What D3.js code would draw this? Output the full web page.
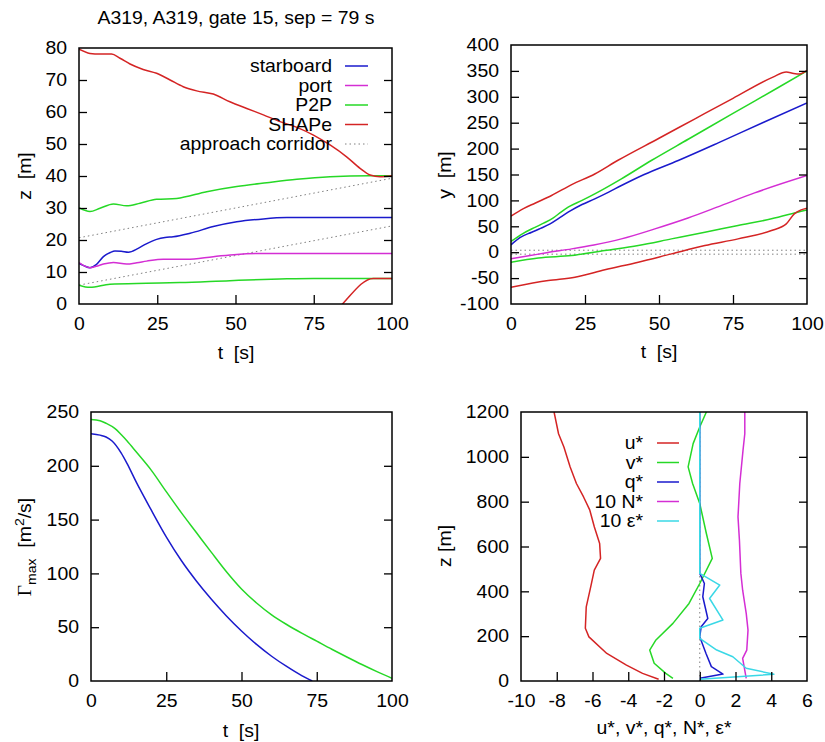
<!DOCTYPE html>
<html>
<head>
<meta charset="utf-8">
<script src="https://cdn.jsdelivr.net/npm/d3@7"></script>
<style>
  body { margin: 0; background: #fff; }
  svg { display: block; }
  text { font-family: "Liberation Sans", Arial, sans-serif; font-size: 18px; fill: #000; }
</style>
</head>
<body>
<svg id="chart" width="825" height="742"></svg>
<script>
// ---------- data ----------
const titleText = "A319, A319, gate 15, sep = 79 s";

// vortex height z(t)
const zStarT  = [0, 1.5, 3.5, 5.5, 7.8, 10, 11.5, 13.5, 15.8, 18.9, 21.5, 24.8, 27.5, 30.1, 35.5, 42.9, 50.4, 58.9, 66.4, 75, 100];
const zStar   = [12.7, 12.0, 11.35, 12.3, 14.8, 16.1, 16.6, 16.5, 16.2, 17.4, 18.8, 20.2, 20.8, 21.0, 22.1, 24.2, 25.7, 26.6, 27.0, 27.05, 27.05];
const zPortT  = [0, 1.5, 3.5, 5.5, 7.8, 11, 15.2, 18.5, 21.6, 26.9, 34.4, 42.9, 50.4, 58.9, 70, 100];
const zPort   = [12.9, 12.0, 11.35, 11.8, 12.5, 13.0, 12.5, 12.9, 13.4, 14.0, 14.0, 14.8, 15.5, 15.8, 15.8, 15.8];
const zP2PHiT = [0, 3.5, 6.7, 11, 15.2, 19.5, 24.8, 31.2, 40.8, 50.4, 60, 69.6, 80.2, 93, 100];
const zP2PHi  = [30.1, 28.9, 29.9, 31.25, 30.7, 31.5, 32.7, 33.0, 35.1, 36.7, 37.9, 39.0, 39.8, 40.1, 40.1];
const zP2PLoT = [0, 3.5, 9.9, 21.6, 32.2, 48.2, 64.2, 74.9, 100];
const zP2PLo  = [5.9, 5.2, 6.2, 6.5, 6.7, 7.3, 7.8, 8.0, 8.0];
const zShapeHiT = [0, 3.5, 6.7, 10.4, 13.1, 16.3, 20.5, 24.8, 29.1, 33.3, 37.6, 42.9, 48.2, 53.6, 58.9, 64.2, 69.6, 74.9, 80.2, 85.5, 89.8, 93, 96.2, 100];
const zShapeHi  = [79.6, 78.3, 78.1, 78.1, 76.8, 75.0, 73.3, 72.1, 70.0, 67.9, 66.6, 65.6, 63.2, 61.1, 59.1, 57.0, 55.2, 52.8, 49.7, 46.0, 42.4, 40.3, 39.8, 40.1];
const zShapeLoT = [82, 84.4, 94, 100];
const zShapeLo  = [-2.5, 0.2, 8.0, 8.0];
const corridorT   = [0, 100];
const corridorZHi = [20.7, 39.3];
const corridorZLo = [5.9, 24.4];

// lateral position y(t)
const yStarT  = [0, 3, 7, 10, 13.2, 16, 19.3, 24, 28.3, 33, 37.3, 45, 56.5, 70, 85, 100];
const yStar   = [14.2, 28, 38.6, 46, 54.7, 65, 77.2, 92, 103, 116, 128.7, 150, 177, 211, 250, 288];
const yPortT  = [0, 6, 12, 20.5, 28, 37.3, 48.6, 59.8, 71, 82.3, 100];
const yPort   = [-12.9, -7, -1, 6.4, 14, 25.7, 45, 66, 90, 114.5, 148];
const yP2PHiT = [0, 4, 8.1, 11, 14.3, 17, 19.3, 24, 28.3, 37.3, 47.4, 60, 75, 90, 100];
const yP2PHi  = [20.6, 36, 48, 56, 66.3, 78, 86.9, 100, 112.6, 141.6, 177, 218.5, 268, 317, 350];
const yP2PLoT = [0, 9.2, 20.5, 31.7, 43, 54.2, 65.5, 76.7, 88, 98, 100];
const yP2PLo  = [-19.3, -11, -6.4, 3.2, 12.9, 25.7, 38.6, 51.5, 64.4, 79, 81.7];
const yShapeHiT = [0, 4.2, 8.1, 13.7, 20.5, 28.3, 36, 50, 62, 75, 88.5, 93, 95.5, 97.5, 100];
const yShapeHi  = [69.5, 84, 94.6, 109.4, 130.6, 151, 177, 220, 257, 297, 338, 348, 345, 344, 351];
const yShapeLoT = [0, 12.6, 21.6, 31.7, 43, 54.2, 65.5, 76.7, 88, 93, 95.7, 98, 100];
const yShapeLo  = [-67.6, -54.7, -48.3, -34, -19.3, -3.2, 12.9, 25.7, 41.8, 54.7, 74, 81.7, 85];
const corridorY = [3.8, -3.8];

// circulation Gamma_max(t)
const gamStarT = [0, 3, 5, 7, 10, 12, 15, 20, 25, 30, 35, 40, 45, 50, 55, 60, 65, 70, 73.5];
const gamStar  = [229.9, 228.5, 226.8, 223, 212, 202, 185, 159, 134, 112, 93, 76, 60.5, 46.5, 34, 23, 13.5, 5, 0];
const gamP2PT  = [0, 3, 5, 8, 10, 12, 15, 20, 25, 30, 35, 40, 45, 50, 55, 60, 65, 70, 75, 80, 85, 90, 95, 100];
const gamP2P   = [243, 241.8, 239.5, 234.5, 229, 223, 213, 196, 176, 156.5, 138, 119.5, 101.5, 85.5, 72.5, 61.5, 52.5, 44.5, 37, 29.5, 22.3, 15.3, 8.7, 2.5];

// meteorological profiles over height z
const uZ   = [7.5, 34, 71, 123, 197, 235, 331, 420, 495, 547, 613, 688, 762, 821, 881, 955, 1044, 1103, 1200];
const uVal = [-2.3, -3.2, -4.1, -5.2, -6.2, -6.4, -6.35, -6.1, -5.9, -5.55, -5.6, -5.9, -6.15, -6.5, -6.9, -7.25, -7.6, -7.9, -8.15];
const vZ   = [12, 34, 79, 138, 183, 257, 346, 435, 547, 658, 792, 881, 955, 1059, 1133, 1200];
const vVal = [-1.5, -1.9, -2.55, -2.8, -2.45, -1.5, -0.6, 0, 0.7, 0.37, 0.0, -0.4, -0.65, -0.37, 0.0, 0.37];
const qZ   = [12, 31, 64, 123, 197, 242, 279, 376, 435, 480, 1200];
const qVal = [0, 1.3, 0.65, 0.35, 0.0, 0.08, 0.45, 0.17, 0.26, 0.0, 0.0];
const nZ   = [12, 79, 101, 138, 227, 302, 405, 480, 628, 732, 881, 1029, 1103, 1200];
const nVal = [2.6, 2.45, 2.4, 2.63, 2.7, 2.6, 2.4, 2.3, 2.22, 2.14, 2.24, 2.42, 2.52, 2.52];
const eZ   = [7.5, 30, 57, 108, 138, 190, 235, 272, 368, 428, 480, 1200];
const eVal = [0, 4.15, 2.6, 1.85, 0.95, 0, 0, 1.3, 0.55, 1.12, 0, 0];

// ticks and labels
const tTicks     = [0, 25, 50, 75, 100];
const zTicks     = [0, 10, 20, 30, 40, 50, 60, 70, 80];
const yTicks     = [-100, -50, 0, 50, 100, 150, 200, 250, 300, 350, 400];
const gamTicks   = [0, 50, 100, 150, 200, 250];
const profXTicks = [-10, -8, -6, -4, -2, 0, 2, 4, 6];
const profZTicks = [0, 200, 400, 600, 800, 1000, 1200];
const trackLegend   = ["starboard", "port", "P2P", "SHAPe", "approach corridor"];
const profileLegend = ["u*", "v*", "q*", "10 N*", "10 \u03b5*"];

// ---------- drawing ----------
const SX = 1.08;   // horizontal text stretch
const C = { blue: "#1a1acc", magenta: "#d42ed4", green: "#26d826", red: "#d42424", cyan: "#3ad8e6", grey: "#808080" };
const svg = d3.select("#chart");
const zip = (a, b) => a.map((v, i) => [v, b[i]]);

function label(g, x, y, s, anchor = "middle", rot = 0) {
  return g.append("text")
    .attr("transform", `translate(${x},${y})` + (rot ? ` rotate(${rot})` : "") + ` scale(${SX},1)`)
    .attr("text-anchor", anchor)
    .style("white-space", "pre")
    .text(s);
}

function panel(box, xDom, yDom, xTicks, yTicks, id) {
  const x = d3.scaleLinear().domain(xDom).range([box.x0, box.x1]);
  const y = d3.scaleLinear().domain(yDom).range([box.y1, box.y0]);
  const g = svg.append("g");
  svg.append("clipPath").attr("id", id).append("rect")
    .attr("x", box.x0).attr("y", box.y0)
    .attr("width", box.x1 - box.x0).attr("height", box.y1 - box.y0);
  const plot = g.append("g").attr("clip-path", `url(#${id})`);
  const fmt = d => String(d);

  const bx = g.append("g").attr("transform", `translate(0,${box.y1})`)
    .call(d3.axisBottom(x).tickValues(xTicks).tickFormat(fmt).tickSize(-9).tickSizeOuter(0).tickPadding(13));
  const ly = g.append("g").attr("transform", `translate(${box.x0},0)`)
    .call(d3.axisLeft(y).tickValues(yTicks).tickFormat(fmt).tickSize(-8).tickSizeOuter(0).tickPadding(12));
  const ry = g.append("g").attr("transform", `translate(${box.x1},0)`)
    .call(d3.axisRight(y).tickValues(yTicks).tickFormat("").tickSize(-8).tickSizeOuter(0));
  [bx, ly, ry].forEach(a => {
    a.select(".domain").remove();
    a.selectAll("line").attr("stroke-width", 1.3);
  });
  bx.selectAll("text").attr("transform", `scale(${SX},1)`);
  ly.selectAll("text").attr("x", -12 / SX).attr("transform", `scale(${SX},1)`);
  // drop ticks that sit on the frame
  [ly, ry].forEach(a => a.selectAll(".tick line").filter(d => d === yDom[0] || d === yDom[1]).remove());
  bx.selectAll(".tick line").filter(d => d === xDom[0] || d === xDom[1]).remove();

  g.append("rect").attr("x", box.x0).attr("y", box.y0)
    .attr("width", box.x1 - box.x0).attr("height", box.y1 - box.y0)
    .attr("fill", "none").attr("stroke", "#000").attr("stroke-width", 1.5);
  return { x, y, g, plot };
}

function series(p, pts, color, curve, dashed) {
  const line = d3.line().x(d => p.x(d[0])).y(d => p.y(d[1])).curve(curve || d3.curveLinear);
  const path = p.plot.append("path").datum(pts).attr("d", line)
    .attr("fill", "none").attr("stroke", color)
    .attr("stroke-width", dashed ? 1 : 1.5).attr("stroke-linejoin", "round");
  if (dashed) path.attr("stroke-dasharray", "1.5,3");
  return path;
}

function legend(g, entries, xText, xs0, xs1, y0, dy) {
  entries.forEach((e, i) => {
    const y = y0 + i * dy;
    label(g, xText, y, e.text, "end").attr("dy", "0.35em");
    const l = g.append("line").attr("x1", xs0).attr("x2", xs1).attr("y1", y).attr("y2", y)
      .attr("stroke", e.color).attr("stroke-width", e.dashed ? 1 : 1.5);
    if (e.dashed) l.attr("stroke-dasharray", "1.5,3");
  });
}

const smooth = d3.curveMonotoneX;

// title
label(svg, 236, 24, titleText);

// ---- panel: z(t) ----
const pA = panel({ x0: 79, x1: 392, y0: 48, y1: 304 }, [0, 100], [0, 80], tTicks, zTicks, "clipA");
series(pA, zip(corridorT, corridorZHi), C.grey, null, true);
series(pA, zip(corridorT, corridorZLo), C.grey, null, true);
series(pA, zip(zStarT, zStar), C.blue, smooth);
series(pA, zip(zPortT, zPort), C.magenta, smooth);
series(pA, zip(zP2PHiT, zP2PHi), C.green, smooth);
series(pA, zip(zP2PLoT, zP2PLo), C.green, smooth);
series(pA, zip(zShapeHiT, zShapeHi), C.red, smooth);
series(pA, zip(zShapeLoT, zShapeLo), C.red, smooth);
legend(pA.g, [
  { text: trackLegend[0], color: C.blue },
  { text: trackLegend[1], color: C.magenta },
  { text: trackLegend[2], color: C.green },
  { text: trackLegend[3], color: C.red },
  { text: trackLegend[4], color: C.grey, dashed: true }
], 332, 345, 368, 66, 19.5);
label(svg, 25, 176, "z  [m]", "middle", -90).attr("dy", "0.35em");
label(svg, 236, 359, "t  [s]");

// ---- panel: y(t) ----
const pB = panel({ x0: 511, x1: 807, y0: 45, y1: 304 }, [0, 100], [-100, 400], tTicks, yTicks, "clipB");
corridorY.forEach(v => series(pB, zip(corridorT, [v, v]), C.grey, null, true));
series(pB, zip(yStarT, yStar), C.blue, smooth);
series(pB, zip(yPortT, yPort), C.magenta, smooth);
series(pB, zip(yP2PHiT, yP2PHi), C.green, smooth);
series(pB, zip(yP2PLoT, yP2PLo), C.green, smooth);
series(pB, zip(yShapeHiT, yShapeHi), C.red, smooth);
series(pB, zip(yShapeLoT, yShapeLo), C.red, smooth);
label(svg, 445, 175, "y  [m]", "middle", -90).attr("dy", "0.35em");
label(svg, 659, 358, "t  [s]");

// ---- panel: Gamma_max(t) ----
const pC = panel({ x0: 91, x1: 392, y0: 412, y1: 681 }, [0, 100], [0, 250], tTicks, gamTicks, "clipC");
series(pC, zip(gamStarT, gamStar), C.blue, smooth);
series(pC, zip(gamP2PT, gamP2P), C.green, smooth);
{
  const t = svg.append("text")
    .attr("transform", `translate(25,547) rotate(-90) scale(${SX},1)`)
    .attr("text-anchor", "middle").attr("dy", "0.35em")
    .style("white-space", "pre");
  t.append("tspan").style("font-family", "'Liberation Serif', serif").text("\u0393");
  t.append("tspan").attr("dy", 5).style("font-size", "13px").text("max");
  t.append("tspan").attr("dy", -5).text("  [m");
  t.append("tspan").attr("dy", -7).style("font-size", "13px").text("2");
  t.append("tspan").attr("dy", 7).text("/s]");
}
label(svg, 241, 737, "t  [s]");

// ---- panel: profiles ----
const pD = panel({ x0: 521, x1: 807, y0: 412, y1: 681 }, [-10, 6], [0, 1200], profXTicks, profZTicks, "clipD");
series(pD, [[0, 0], [0, 1200]], C.grey, null, true);
series(pD, zip(uVal, uZ), C.red);
series(pD, zip(vVal, vZ), C.green);
series(pD, zip(qVal, qZ), C.blue);
series(pD, zip(nVal, nZ), C.magenta);
series(pD, zip(eVal, eZ), C.cyan);
legend(pD.g, [
  { text: profileLegend[0], color: C.red },
  { text: profileLegend[1], color: C.green },
  { text: profileLegend[2], color: C.blue },
  { text: profileLegend[3], color: C.magenta },
  { text: profileLegend[4], color: C.cyan }
], 643, 657, 679, 443, 19.5);
label(svg, 445, 546, "z [m]", "middle", -90).attr("dy", "0.35em");
label(svg, 664, 734, "u*, v*, q*, N*, \u03b5*");
</script>
</body>
</html>
